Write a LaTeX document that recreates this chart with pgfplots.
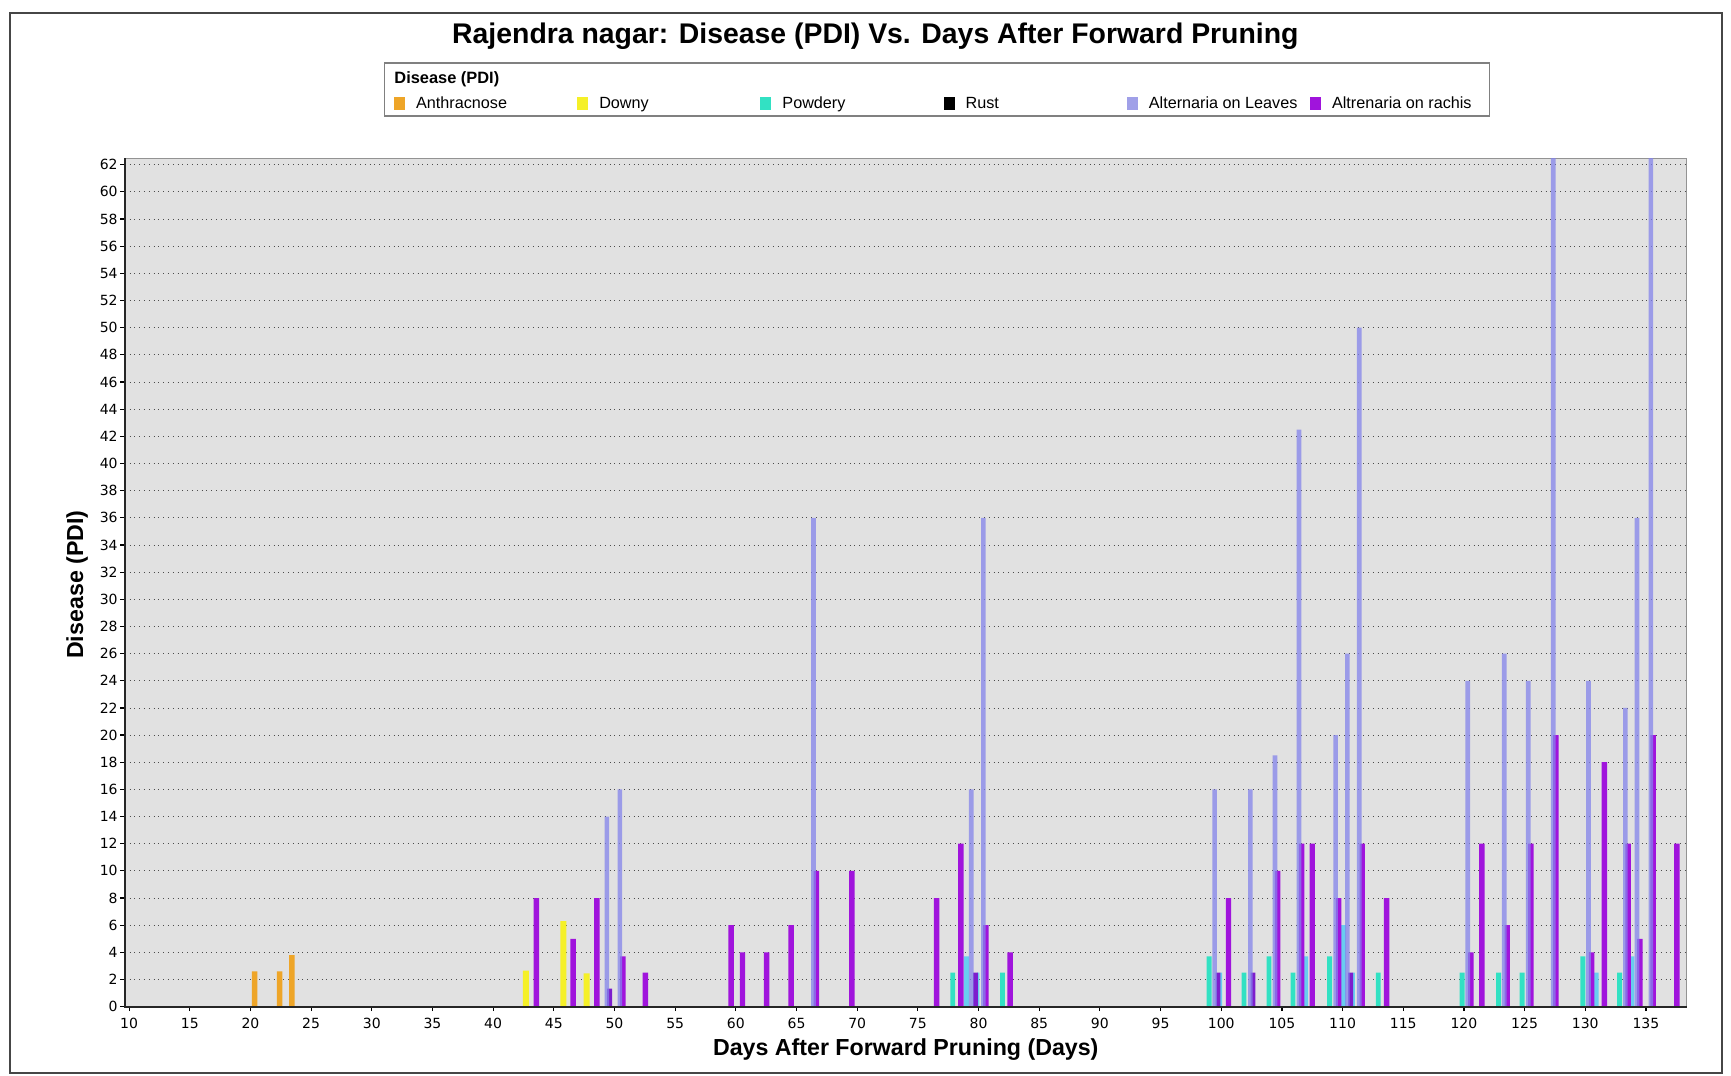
\documentclass[border=0pt]{standalone}
\usepackage{pgfplots}
\pgfplotsset{compat=1.18}
\usepackage{fontspec}
\setmainfont{Liberation Sans}
\newfontfamily\tickfont{DejaVu Sans}
\definecolor{anth}{RGB}{238,165,40}
\definecolor{downy}{RGB}{245,240,40}
\definecolor{powd}{RGB}{50,225,195}
\definecolor{powdlb}{RGB}{105,205,240}
\definecolor{rust}{RGB}{0,0,0}
\definecolor{alt}{RGB}{160,160,232}
\definecolor{altT}{RGB}{132,132,235}
\definecolor{rach}{RGB}{160,20,220}
\definecolor{rachdk}{RGB}{125,30,205}
\definecolor{plotbg}{RGB}{225,225,225}
\definecolor{framec}{RGB}{70,70,70}
\newcommand{\lgtext}[1]{\makebox[86.1pt][l]{\hspace{5.5pt}\strut #1}}
\begin{document}
\begin{tikzpicture}
\useasboundingbox (-62.4pt,-34.65pt) rectangle (803.1pt,503.35pt);
\fill[white] (-62.4pt,-34.65pt) rectangle (803.1pt,503.35pt);
\draw[line width=1pt, color=framec] (-57.4pt,-33.15pt) rectangle (798.6pt,496.85pt);
\node[font=\bfseries\fontsize{14.2}{16}\selectfont, inner sep=0pt] at (375.3pt,485.4pt) {Rajendra nagar: Disease (PDI) Vs. Days After Forward Pruning};
\begin{axis}[
  at={(0pt,0pt)}, anchor=south west,
  scale only axis, width=780.95pt, height=424.2pt,
  xmin=9.645, xmax=138.36, ymin=0, ymax=62.47,
  xtick={10,15,...,135}, ytick={0,2,...,62},
  xtick pos=left, ytick pos=left,
  axis background/.style={fill=plotbg},
  axis line style={draw=gray!85, line width=0.5pt},
  ymajorgrids, grid style={gray!60!black, dotted, line width=0.4pt},
  tick align=outside, major tick length=2.2pt,
  tick style={black, line width=0.6pt},
  /pgf/number format/assume math mode=true,
  ticklabel style={font=\tickfont\fontsize{7}{8}\selectfont, inner sep=0pt},
  xticklabel shift=3.4pt,
  yticklabel shift=1.2pt,
  xlabel={Days After Forward Pruning (Days)},
  ylabel={Disease (PDI)},
  label style={font=\bfseries\fontsize{11.6}{13}\selectfont},
  xlabel style={at={(axis description cs:0.5,-0.05104)}, anchor=center},
  ylabel style={at={(axis description cs:-0.0306,0.4975)}, anchor=center},
  legend columns=6,
  legend image code/.code={\fill[#1] (0pt,-3.3pt) rectangle (5.5pt,3.3pt);},
  legend style={at={(axis description cs:0.1724,1.0642)}, anchor=west, draw=none, fill=none,
    inner sep=0pt, outer sep=0pt, column sep=0pt, row sep=0pt,
    font=\fontsize{8.1}{9}\selectfont, nodes={inner sep=0pt}},
  after end axis/.code={
    \draw[black!85, line width=1pt] (rel axis cs:0,1) -- (rel axis cs:0,0) -- (rel axis cs:1,0);
    \draw[line width=0.6pt, color=gray] (axis description cs:0.1661,1.1123) rectangle (axis description cs:0.8736,1.0499);
    \node[anchor=west, font=\bfseries\fontsize{8.2}{9}\selectfont, inner sep=0pt] at (axis description cs:0.1724,1.0928) {Disease (PDI)};
  },
]
\addlegendimage{fill=anth, draw=none}
\addlegendentry{\lgtext{Anthracnose}}
\addlegendimage{fill=downy, draw=none}
\addlegendentry{\lgtext{Downy}}
\addlegendimage{fill=powd, draw=none}
\addlegendentry{\lgtext{Powdery}}
\addlegendimage{fill=rust, draw=none}
\addlegendentry{\lgtext{Rust}}
\addlegendimage{fill=alt, draw=none}
\addlegendentry{\lgtext{Alternaria on Leaves}}
\addlegendimage{fill=rach, draw=none}
\addlegendentry{\lgtext{Altrenaria on rachis}}

% Anthracnose
\addplot[ybar, bar width=0.45, bar shift=0pt, fill=anth, draw=none, forget plot] coordinates {
(20.35,2.6) (22.41,2.6) (23.42,3.8)};
% Downy
\addplot[ybar, bar width=0.5, bar shift=0pt, fill=downy, draw=none, forget plot] coordinates {
(42.7,2.65) (45.78,6.3) (47.7,2.45)};
% Powdery
\addplot[ybar, bar width=0.4, bar shift=0pt, fill=powd, draw=none, forget plot] coordinates {
(77.88,2.5) (81.98,2.5) (99.0,3.7) (101.88,2.5) (103.94,3.7) (105.91,2.5) (108.93,3.7)
(112.94,2.5) (119.85,2.5) (122.86,2.5) (124.8,2.5) (129.8,3.7) (132.83,2.5)};
% Powdery (overlapped parts)
\addplot[ybar, bar width=0.4, bar shift=0pt, fill=powdlb, draw=none, forget plot] coordinates {
(79.0,3.7) (106.96,3.7) (110.09,6) (130.9,2.5) (133.85,3.7)};
\addplot[ybar, bar width=0.18, bar shift=0pt, fill=powdlb, draw=none, forget plot] coordinates {
(79.98,2.5) (99.98,2.5) (110.92,2.5)};
% Altrenaria on rachis
\addplot[ybar, bar width=0.45, bar shift=0pt, fill=rach, draw=none, forget plot] coordinates {
(43.57,8) (46.59,5) (48.54,8) (50.69,3.7) (52.55,2.5) (59.62,6) (60.55,4) (62.53,4)
(64.56,6) (66.63,10) (69.56,10) (76.54,8) (78.54,12) (80.6,6) (82.6,4) (100.6,8)
(104.65,10) (106.63,12) (107.5,12) (109.67,8) (111.62,12) (113.63,8) (120.58,4)
(121.48,12) (123.57,6) (125.52,12) (127.58,20) (130.52,4) (131.57,18) (133.54,12)
(134.5,5) (135.6,20) (137.55,12)};
\addplot[ybar, bar width=0.4, bar shift=0pt, fill=rachdk, draw=none, forget plot] coordinates {
(49.6,1.33) (79.75,2.5) (99.74,2.5) (102.62,2.5) (110.66,2.5)};
% Alternaria on Leaves
\addplot[ybar, bar width=0.38, bar shift=0pt, fill=altT, fill opacity=0.75, draw=none, forget plot] coordinates {
(49.37,14) (50.44,16) (66.4,36) (79.4,16) (80.4,36) (99.46,16) (102.4,16) (104.43,18.5)
(106.41,42.5) (109.43,20) (110.39,26) (111.37,50) (120.32,24) (123.32,26) (125.3,24)
(127.36,62.5) (130.27,24) (133.3,22) (134.26,36) (135.41,62.5)};
\end{axis}
\end{tikzpicture}
\end{document}
